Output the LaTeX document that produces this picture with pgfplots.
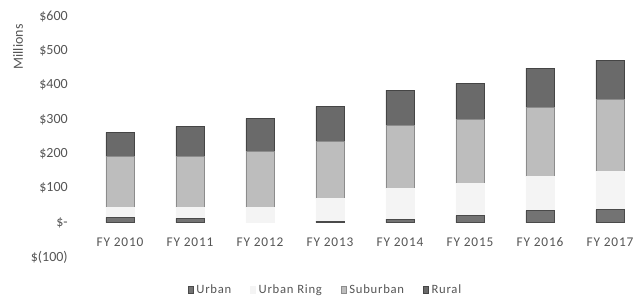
\documentclass[border=0pt]{standalone}
\usepackage{fontspec}
\setmainfont{Carlito}
\newfontfamily\wide{Carlito}[LetterSpace=6]
\usepackage{pgfplots}
\pgfplotsset{compat=1.18}
\definecolor{txt}{HTML}{555555}
\definecolor{urbanF}{HTML}{737373}
\definecolor{urbanD}{HTML}{4A4A4A}
\definecolor{ringF}{HTML}{F4F4F4}
\definecolor{subF}{HTML}{BDBDBD}
\definecolor{subD}{HTML}{8C8C8C}
\definecolor{ruralF}{HTML}{6A6A6A}
\definecolor{ruralD}{HTML}{454545}
\begin{document}
\fontsize{10.5pt}{12pt}\selectfont
\begin{tikzpicture}
\begin{axis}[
  at={(-26.25pt,-25.5pt)}, anchor=south west,
  x=52.5pt, y=0.258pt,
  xmin=-0.5, xmax=7.5, ymin=-100, ymax=600,
  ybar stacked, bar width=21pt,
  axis line style={draw=none}, major tick length=0pt,
  xtick={0,1,2,3,4,5,6,7},
  xticklabels={FY 2010,FY 2011,FY 2012,FY 2013,FY 2014,FY 2015,FY 2016,FY 2017},
  ytick={-100,0,100,200,300,400,500,600},
  yticklabels={\$(100),\$-\hspace{6pt},\$100,\$200,\$300,\$400,\$500,\$600},
  xticklabel style={anchor=center, yshift=11.25pt, text=txt, inner sep=0pt, font=\wide\fontsize{10pt}{12pt}\selectfont},
  yticklabel style={anchor=east, xshift=-12.75pt, text=txt, inner sep=0pt},
  legend columns=4,
  legend style={at={(0.43,-0.1375)}, anchor=center, draw=none, fill=none,
    text=txt, font=\wide\fontsize{9.5pt}{10pt}\selectfont,
    /tikz/every even column/.append style={column sep=12pt}},
  legend image code/.code={\draw[#1,line width=0.5pt] (1pt,-2.5pt) rectangle (5pt,2.5pt);},
  clip=false,
]
\addplot[fill=urbanF, draw=urbanD, line width=0.6pt] coordinates {(0,15)(1,12)(2,0)(3,4)(4,10)(5,20)(6,35)(7,38)};
\addplot[fill=ringF, draw=ringF] coordinates {(0,29)(1,32)(2,44)(3,66)(4,89)(5,94)(6,99)(7,111)};
\addplot[fill=subF, draw=subD, line width=0.6pt] coordinates {(0,148)(1,148)(2,163)(3,166)(4,184)(5,186)(6,201)(7,210)};
\addplot[fill=ruralF, draw=ruralD, line width=0.6pt] coordinates {(0,70)(1,88)(2,96)(3,102)(4,102)(5,105)(6,114)(7,113)};
\legend{Urban,Urban Ring,Suburban,Rural}
\end{axis}
\node[rotate=90, text=txt] at (-76.5pt,132pt) {Millions};
\pgfresetboundingbox
\path[use as bounding box] (-90pt,-57.75pt) rectangle (384.75pt,167.25pt);
\end{tikzpicture}
\end{document}
